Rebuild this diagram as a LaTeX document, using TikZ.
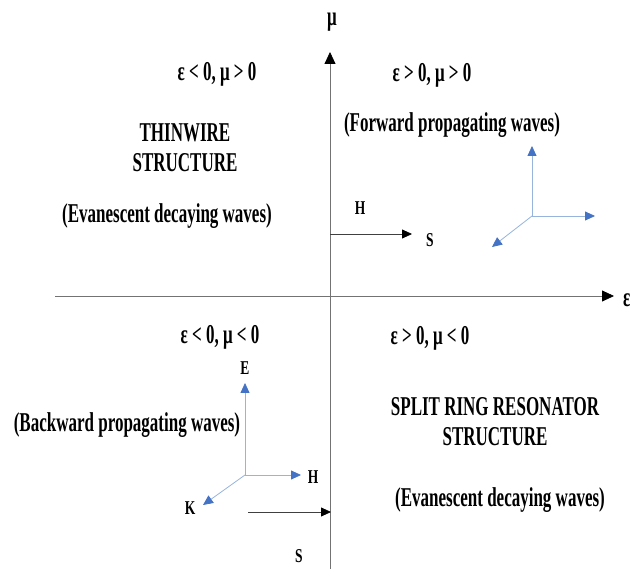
\documentclass[tikz,border=0pt]{standalone}
\usepackage{fontspec}
\setmainfont{Liberation Serif}
\usetikzlibrary{arrows.meta}
\newcommand\vtx[1]{\scalebox{1}[1.6]{#1}}
\newcommand\stx[1]{\scalebox{1}[1.45]{#1}}
\definecolor{arrblue}{RGB}{68,114,196}
\definecolor{lineblue}{RGB}{150,180,220}
\tikzset{
  big/.style={font=\fontsize{17}{20}\selectfont\bfseries, inner sep=0pt},
  small/.style={font=\fontsize{13.5}{15}\selectfont\bfseries, inner sep=0pt},
  axis/.style={draw=black!55, line width=0.8pt, -{Triangle[length=12pt,width=11pt,fill=black,color=black]}},
  blk/.style={draw=black!75, line width=0.8pt, -{Triangle[length=10pt,width=9pt,fill=black,color=black]}},
  blu/.style={draw=lineblue, line width=0.8pt, -{Triangle[length=10pt,width=9pt,fill=arrblue,color=arrblue]}}
}
\begin{document}
\begin{tikzpicture}[x=1pt,y=-1pt]
\useasboundingbox[fill=white] (0,0) rectangle (630,569);
% axes
\coordinate (hstart) at (55,296);
\coordinate (hend) at (614,296);
\coordinate (vstart) at (330,569);
\coordinate (vend) at (330,52);
\draw[axis] (hstart) -- (hend);
\draw[axis] (vstart) -- (vend);
\node[big] (mu) at (332,22) {\vtx{μ}};
\node[big, anchor=west] (eps) at (623,300) {\vtx{ε}};
% quadrant II
\node[big] (q2) at (217,74) {\vtx{ε < 0, μ > 0}};
\node[big] (tw1) at (185,133) {\vtx{THINWIRE}};
\node[big] (tw2) at (185,163) {\vtx{STRUCTURE}};
\node[big] (ev1) at (167,216) {\vtx{(Evanescent decaying waves)}};
% quadrant I
\node[big] (q1) at (432,75) {\vtx{ε > 0, μ > 0}};
\node[big] (fw) at (452,125) {\vtx{(Forward propagating waves)}};
\coordinate (o1) at (532,216);
\coordinate (o1u) at (532,146);
\coordinate (o1r) at (595,216);
\coordinate (o1d) at (492,247);
\draw[blu] (o1) -- (o1u);
\draw[blu] (o1) -- (o1r);
\draw[blu] (o1) -- (o1d);
\node[small] (h1) at (360,208) {\stx{H}};
\coordinate (s1a) at (330,234);
\coordinate (s1b) at (412,234);
\draw[blk] (s1a) -- (s1b);
\node[small] (s1) at (430,240) {\stx{S}};
% quadrant III
\node[big] (q3) at (220,337) {\vtx{ε < 0, μ < 0}};
\node[big] (bw) at (127,425) {\vtx{(Backward propagating waves)}};
\coordinate (o3) at (245,475);
\coordinate (o3u) at (245,383);
\coordinate (o3r) at (301,475);
\coordinate (o3d) at (203,505);
\draw[blu] (o3) -- (o3u);
\draw[blu] (o3) -- (o3r);
\draw[blu] (o3) -- (o3d);
\node[small] (e3) at (245,368) {\stx{E}};
\node[small] (h3) at (313,477) {\stx{H}};
\node[small] (k3) at (190,508) {\stx{K}};
\coordinate (s3a) at (248,512);
\coordinate (s3b) at (331,512);
\draw[blk] (s3a) -- (s3b);
\node[small] (s3) at (299,556) {\stx{S}};
% quadrant IV
\node[big] (q4) at (430,338) {\vtx{ε > 0, μ < 0}};
\node[big] (sr1) at (495,407) {\vtx{SPLIT RING RESONATOR}};
\node[big] (sr2) at (495,437) {\vtx{STRUCTURE}};
\node[big] (ev2) at (500,500) {\vtx{(Evanescent decaying waves)}};
\end{tikzpicture}
\end{document}
